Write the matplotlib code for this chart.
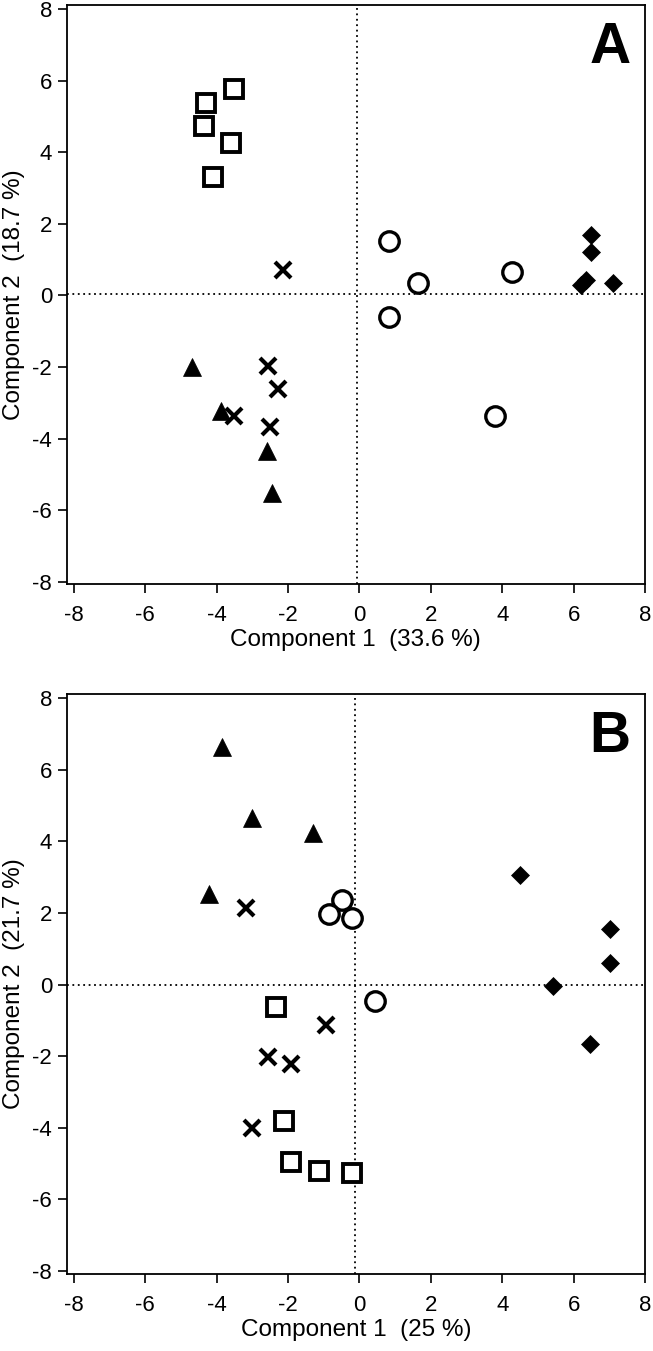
import matplotlib
matplotlib.use("Agg")
import matplotlib.pyplot as plt

plt.rcParams['font.family'] = ['Liberation Sans', 'DejaVu Sans']

# ---- Panel A data ----
a_square_x = [-3.52, -4.31, -4.36, -3.61, -4.11]
a_square_y = [5.77, 5.37, 4.73, 4.26, 3.31]
a_tri_x = [-4.68, -3.89, -2.59, -2.44]
a_tri_y = [-1.99, -3.22, -4.34, -5.53]
a_cross_x = [-2.15, -2.55, -2.29, -3.50, -2.50]
a_cross_y = [0.72, -1.97, -2.61, -3.36, -3.67]
a_circ_x = [0.84, 1.65, 0.84, 4.28, 3.80]
a_circ_y = [1.52, 0.35, -0.60, 0.65, -3.37]
a_dia_x = [6.48, 6.48, 6.22, 6.36, 7.11]
a_dia_y = [1.69, 1.22, 0.28, 0.42, 0.34]

# ---- Panel B data ----
b_square_x = [-2.35, -2.10, -1.93, -1.12, -0.22]
b_square_y = [-0.64, -3.82, -4.96, -5.21, -5.27]
b_tri_x = [-3.86, -3.02, -1.31, -4.22]
b_tri_y = [6.63, 4.65, 4.23, 2.53]
b_cross_x = [-3.19, -0.95, -2.55, -1.91, -3.02]
b_cross_y = [2.13, -1.12, -2.02, -2.23, -4.00]
b_circ_x = [-0.48, -0.84, -0.20, 0.45]
b_circ_y = [2.36, 1.97, 1.87, -0.46]
b_dia_x = [4.49, 7.03, 7.03, 5.41, 6.45]
b_dia_y = [3.06, 1.55, 0.59, -0.04, -1.65]

ticks = [-8, -6, -4, -2, 0, 2, 4, 6, 8]

panels = [
    dict(sq=(a_square_x, a_square_y), tri=(a_tri_x, a_tri_y), cr=(a_cross_x, a_cross_y),
         ci=(a_circ_x, a_circ_y), di=(a_dia_x, a_dia_y),
         xlabel="Component 1  (33.6 %)", ylabel="Component 2  (18.7 %)", tag="A",
         vline=-0.07, hline=0.03, ylim=(-8.06, 8.11)),
    dict(sq=(b_square_x, b_square_y), tri=(b_tri_x, b_tri_y), cr=(b_cross_x, b_cross_y),
         ci=(b_circ_x, b_circ_y), di=(b_dia_x, b_dia_y),
         xlabel="Component 1  (25 %)", ylabel="Component 2  (21.7 %)", tag="B",
         vline=-0.12, hline=-0.02, ylim=(-8.08, 8.11)),
]

W, H = 653, 1351
fig = plt.figure(figsize=(W / 100, H / 100), dpi=100)
rects = [
    (66.7 / W, 1 - 584 / H, (645 - 66.7) / W, (584 - 5) / H),
    (66.7 / W, 1 - 1274 / H, (645 - 66.7) / W, (1274 - 694) / H),
]

for rect, p in zip(rects, panels):
    ax = fig.add_axes(rect)
    ax.set_xlim(-8.2, 8.0)
    ax.set_ylim(*p['ylim'])
    ax.axvline(p['vline'], color='black', lw=1.3, ls=(0, (1, 2)), zorder=1)
    ax.axhline(p['hline'], color='black', lw=1.3, ls=(0, (1, 2)), zorder=1)
    ax.plot(*p['sq'], ls='none', marker='s', ms=12.5, mfc='white', mec='black', mew=2.8, zorder=3)
    ax.plot(*p['tri'], ls='none', marker='^', ms=13, mfc='black', mec='black', mew=0.5, zorder=3)
    ax.plot(*p['cr'], ls='none', marker='x', ms=11, mec='black', mew=3.0, zorder=3)
    ax.plot(*p['ci'], ls='none', marker='o', ms=14, mfc='white', mec='black', mew=2.4, zorder=3)
    ax.plot(*p['di'], ls='none', marker='D', ms=9.5, mfc='black', mec='black', mew=0.5, zorder=3)
    ax.set_xticks(ticks)
    ax.set_yticks(ticks)
    ax.set_xticklabels([str(t) for t in ticks])
    ax.set_yticklabels([str(t) for t in ticks])
    ax.tick_params(direction='out', length=6.5, width=1.2, labelsize=16)
    ax.tick_params(axis='x', pad=8.5)
    ax.tick_params(axis='y', pad=4)
    for s in ax.spines.values():
        s.set_linewidth(1.3)
    ax.set_xlabel(p['xlabel'], fontsize=17.5, labelpad=2)
    ax.set_ylabel(p['ylabel'], fontsize=17.5, labelpad=5)
    ax.text(0.975, 0.972, p['tag'], transform=ax.transAxes, ha='right', va='top',
            fontsize=41, fontweight='bold')

fig.savefig("out.png", dpi=100)
